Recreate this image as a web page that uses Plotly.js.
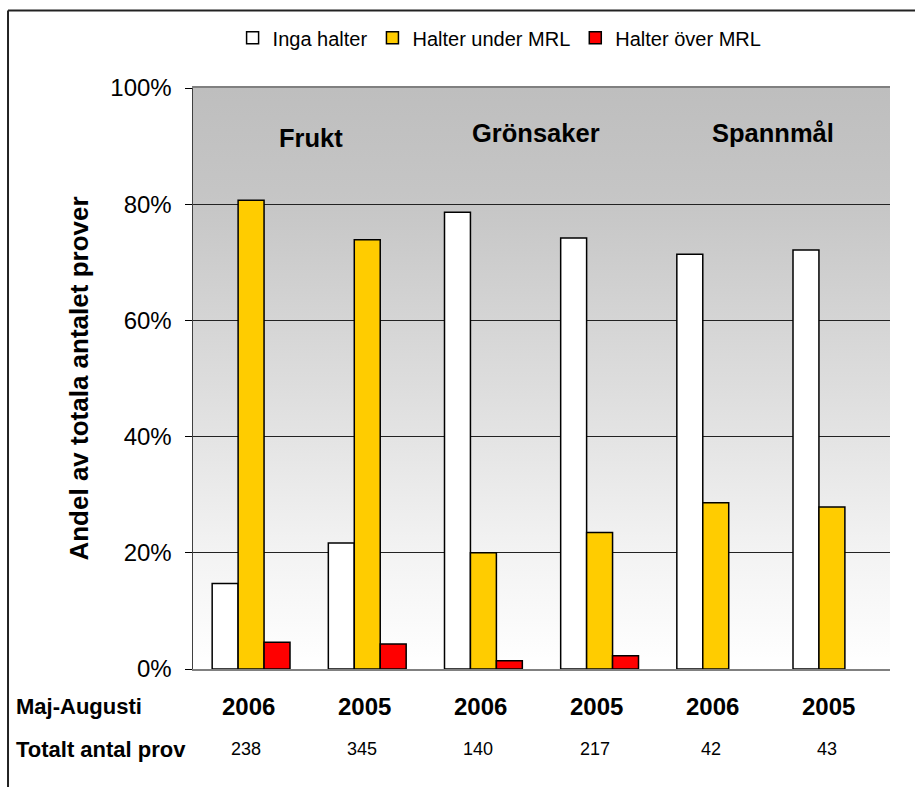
<!DOCTYPE html>
<html>
<head>
<meta charset="utf-8">
<script src="https://cdn.plot.ly/plotly-3.0.1.min.js"></script>
<style>html,body{margin:0;padding:0;background:#fff;}#chart{width:915px;height:787px;}</style>
</head>
<body>
<div id="chart"></div>
<script>
// ---- data ----
var categories = ["Frukt 2006", "Frukt 2005", "Grönsaker 2006", "Grönsaker 2005", "Spannmål 2006", "Spannmål 2005"];
var years = ["2006", "2005", "2006", "2005", "2006", "2005"];
var totals = ["238", "345", "140", "217", "42", "43"];
var groupNames = ["Frukt", "Grönsaker", "Spannmål"];
var seriesNames = ["Inga halter", "Halter under MRL", "Halter över MRL"];
var ingaHalter = [14.7, 21.7, 78.6, 74.2, 71.4, 72.1];
var halterUnder = [80.7, 73.9, 20.0, 23.5, 28.6, 27.9];
var halterOver = [4.6, 4.3, 1.4, 2.3, 0, 0];

var colors = ["#FFFFFF", "#FFCC00", "#FF0000"];
var FONT = "Arial, 'Liberation Sans', sans-serif";

var values = [ingaHalter, halterUnder, halterOver];
var traces = values.map(function (v, i) {
  return {
    type: "bar",
    name: seriesNames[i],
    x: categories,
    y: v,
    marker: { color: colors[i],
      line: { color: "#000000", width: v.map(function (val) { return val > 0 ? 1.5 : 0; }) } },
    hoverinfo: "y+name"
  };
});

var grad = '<svg xmlns="http://www.w3.org/2000/svg" width="10" height="100" preserveAspectRatio="none">' +
  '<defs><linearGradient id="g" x1="0" y1="0" x2="0" y2="1">' +
  '<stop offset="0" stop-color="#BEBEBE"/><stop offset="0.2" stop-color="#C6C6C6"/>' +
  '<stop offset="0.5" stop-color="#DCDCDC"/><stop offset="0.8" stop-color="#F3F3F3"/>' +
  '<stop offset="1" stop-color="#FFFFFF"/></linearGradient></defs>' +
  '<rect width="10" height="100" fill="url(#g)"/></svg>';
var gradUri = "data:image/svg+xml;base64," + btoa(grad);

var annotations = [];
// group labels inside plot
var groupX = [0.52, 2.45, 4.49];
var groupY = [91.4, 92.3, 92.3];
groupNames.forEach(function (g, i) {
  annotations.push({ x: groupX[i], y: groupY[i], xref: "x", yref: "y", text: "<b>" + g + "</b>",
    showarrow: false, xanchor: "center", yanchor: "middle",
    font: { family: FONT, size: 25.5, color: "#000" } });
});
categories.forEach(function (c, i) {
  annotations.push({ x: c, y: -0.0654, xref: "x", yref: "paper", text: "<b>" + years[i] + "</b>",
    showarrow: false, xanchor: "center", yanchor: "middle", xshift: -3,
    font: { family: FONT, size: 24, color: "#000" } });
  annotations.push({ x: c, y: -0.1377, xref: "x", yref: "paper", text: totals[i],
    showarrow: false, xanchor: "center", yanchor: "middle", xshift: -5,
    font: { family: FONT, size: 18, color: "#000" } });
});
annotations.push({ x: -0.2568, y: -0.0654, xref: "paper", yref: "paper", xanchor: "left", yanchor: "middle",
  text: "<b>Maj-Augusti</b>", showarrow: false, font: { family: FONT, size: 22, color: "#000" } });
annotations.push({ x: -0.2568, y: -0.1377, xref: "paper", yref: "paper", xanchor: "left", yanchor: "middle",
  text: "<b>Totalt antal prov</b>", showarrow: false, font: { family: FONT, size: 22, color: "#000" } });

var layout = {
  width: 915, height: 787,
  margin: { l: 193, r: 25, t: 88, b: 118 },
  paper_bgcolor: "#FFFFFF",
  plot_bgcolor: "rgba(0,0,0,0)",
  barmode: "group",
  bargap: 0.33,
  bargroupgap: 0,
  font: { family: FONT, color: "#000" },
  showlegend: true,
  legend: {
    orientation: "h", xref: "container", yref: "container",
    x: 0.546, xanchor: "center", y: 0.952, yanchor: "middle",
    font: { family: FONT, size: 20, color: "#000" },
    itemwidth: 30, bgcolor: "rgba(0,0,0,0)", traceorder: "normal"
  },
  xaxis: {
    type: "category", showticklabels: false, ticks: "",
    showline: true, linecolor: "#808080", linewidth: 2, mirror: true,
    showgrid: false, zeroline: false, fixedrange: true
  },
  yaxis: {
    range: [0, 100], dtick: 20, tick0: 0, ticksuffix: "%",
    ticks: "outside", ticklen: 7, tickcolor: "#000", tickwidth: 1,
    ticklabelstandoff: 8,
    tickfont: { family: FONT, size: 24, color: "#000" },
    showline: true, linecolor: "#404040", linewidth: 1.5,
    showgrid: true, gridcolor: "#222222", gridwidth: 1,
    zeroline: false, fixedrange: true,
    title: { text: "<b>Andel av totala antalet prover</b>", standoff: 14,
      font: { family: FONT, size: 26, color: "#000" } }
  },
  images: [{ source: gradUri, xref: "paper", yref: "paper", x: 0, y: 1, sizex: 1, sizey: 1,
    sizing: "stretch", layer: "below", xanchor: "left", yanchor: "top" }],
  shapes: [
    { type: "line", xref: "paper", yref: "paper", x0: -0.2654, x1: -0.2654, y0: 1.1334, y1: -0.21,
      line: { color: "#222", width: 2 } },
    { type: "line", xref: "paper", yref: "paper", x0: -0.2654, x1: 1.04, y0: 1.1334, y1: 1.1334,
      line: { color: "#222", width: 2 } }
  ],
  annotations: annotations
};

Plotly.newPlot("chart", traces, layout, { displayModeBar: false, staticPlot: true });
</script>
</body>
</html>
